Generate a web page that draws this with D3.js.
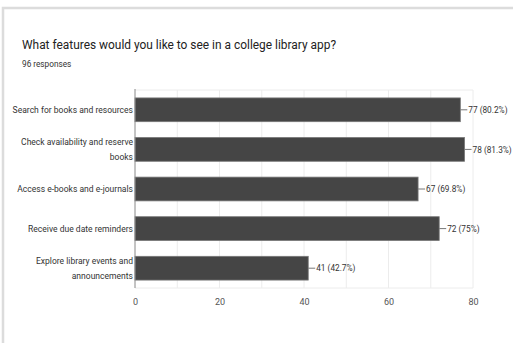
<!DOCTYPE html>
<html><head><meta charset="utf-8">
<script src="https://cdn.jsdelivr.net/npm/d3@7"></script>
<style>body{margin:0;background:#fff;font-family:Roboto,Arial,sans-serif;}</style>
</head><body><svg id="c" width="513" height="343"></svg>
<script>
const title = "What features would you like to see in a college library app?";
const subtitle = "96 responses";
const categories = [["Search for books and resources"],["Check availability and reserve","books"],["Access e-books and e-journals"],["Receive due date reminders"],["Explore library events and","announcements"]];
const counts = [77, 78, 67, 72, 41];
const percents = ["80.2%","81.3%","69.8%","75%","42.7%"];
const xTicks = [0,20,40,60,80];
const gridVals = [10,20,30,40,50,60,70,80];

const FONT = "Roboto, Arial, sans-serif";
const svg = d3.select("#c");
// frame
svg.append("rect").attr("x",3).attr("y",8).attr("width",520).attr("height",350)
  .attr("fill","none").attr("stroke","#dcdcdc").attr("stroke-width",2.5);

// squeezed text helper
function sText(g, x, y, sx, txt, size, fill, anchor){
  return g.append("text").attr("transform",`translate(${x},${y}) scale(${sx},1)`)
    .attr("font-size",size).attr("fill",fill).attr("font-family",FONT)
    .attr("text-anchor",anchor||"start").text(txt);
}

sText(svg, 22, 49, 0.89, title, 13.4, "#222");
sText(svg, 22, 67, 0.97, subtitle, 8.5, "#333");

const m = {left:135, right:473, top:90, bottom:288};
const x = d3.scaleLinear().domain([0,80]).range([m.left,m.right]);
const y = d3.scaleBand().domain(d3.range(counts.length)).range([m.top,m.bottom]).paddingInner(0.4).paddingOuter(0.2);

// gridlines
svg.append("g").selectAll("line").data(gridVals).join("line")
  .attr("x1",d=>x(d)).attr("x2",d=>x(d)).attr("y1",m.top).attr("y2",m.bottom)
  .attr("stroke","#ececec").attr("stroke-width",1);
svg.append("line").attr("x1",m.left).attr("x2",m.right).attr("y1",m.top).attr("y2",m.top).attr("stroke","#ececec");
svg.append("line").attr("x1",m.left).attr("x2",m.right).attr("y1",m.bottom).attr("y2",m.bottom).attr("stroke","#ececec");

// bars
svg.append("g").selectAll("rect").data(counts).join("rect")
  .attr("x",x(0)).attr("y",(d,i)=>y(i)).attr("width",d=>x(d)-x(0)).attr("height",y.bandwidth())
  .attr("fill","#454545").attr("stroke","#777").attr("stroke-width",0.8);

// axis line
svg.append("line").attr("x1",x(0)).attr("x2",x(0)).attr("y1",m.top-1).attr("y2",m.bottom)
  .attr("stroke","#888").attr("stroke-width",1);

// x tick labels
const xa = d3.axisBottom(x).tickValues(xTicks).tickSize(0).tickPadding(11);
const gx = svg.append("g").attr("transform",`translate(0,${m.bottom})`).call(xa);
gx.select(".domain").remove();
gx.selectAll("text").attr("font-size",9).attr("fill","#555").attr("font-family",FONT);

// category labels
const cg = svg.append("g");
categories.forEach((lines,i)=>{
  const cy = y(i)+y.bandwidth()/2;
  const lh = 14.5;
  lines.forEach((l,j)=>{
    sText(cg, m.left-2, cy + (j-(lines.length-1)/2)*lh + 3.2, 0.95, l, 9, "#333", "end");
  });
});

// value labels
const vg = svg.append("g");
counts.forEach((d,i)=>{
  const cy = y(i)+y.bandwidth()/2;
  vg.append("line").attr("x1",x(d)).attr("x2",x(d)+7).attr("y1",cy).attr("y2",cy).attr("stroke","#777");
  sText(vg, x(d)+8, cy+3.2, 0.92, `${d} (${percents[i]})`, 9, "#333");
});
</script></body></html>
